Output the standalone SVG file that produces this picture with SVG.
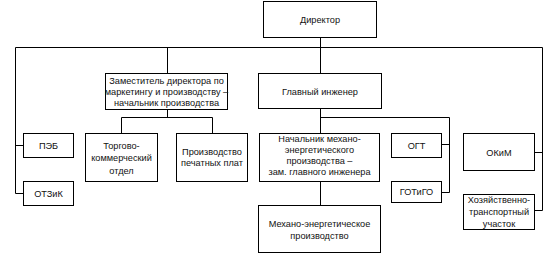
<svg xmlns="http://www.w3.org/2000/svg" width="558" height="256" viewBox="0 0 558 256">
<style>
.box{fill:#fff;stroke:#000;stroke-width:1}
.ln{fill:none;stroke:#000;stroke-width:1}
text{font-family:"Liberation Sans",Arial,sans-serif;font-size:9.2px;fill:#111;text-anchor:middle}
</style>
<rect width="558" height="256" fill="#fff"/>
<g id="connectors">
<path class="ln" d="M320.5 37 V205"/>
<path class="ln" d="M15.5 47.5 H542.5 V210.5 H534"/>
<path class="ln" d="M542.5 152.5 H534"/>
<path class="ln" d="M15.5 47.5 V193.5 H23"/>
<path class="ln" d="M15.5 145.5 H23"/>
<path class="ln" d="M167.5 47.5 V73"/>
<path class="ln" d="M167.5 110 V117.5"/>
<path class="ln" d="M121.5 133 V117.5 H212.5 V133"/>
<path class="ln" d="M320.5 117.5 H449.5 V192.5 H441"/>
<path class="ln" d="M449.5 144.5 H441"/>
</g>
<g id="director"><rect class="box" x="263.5" y="1.5" width="113" height="36"/><text x="320" y="22.5">Директор</text></g>
<g id="deputy"><rect class="box" x="105.5" y="73.5" width="122" height="36"/><text x="166.5" y="83.5">Заместитель директора по</text><text x="166.5" y="94.5">маркетингу и производству –</text><text x="166.5" y="105.5">начальник производства</text></g>
<g id="chief-engineer"><rect class="box" x="258.5" y="73.5" width="123" height="35"/><text x="320" y="94.5">Главный инженер</text></g>
<g id="peb"><rect class="box" x="23.5" y="133.5" width="50" height="24"/><text x="48.5" y="148.5">ПЭБ</text></g>
<g id="otzik"><rect class="box" x="23.5" y="181.5" width="50" height="24"/><text x="48.5" y="196.5">ОТЗиК</text></g>
<g id="trade"><rect class="box" x="85.5" y="133.5" width="72" height="48"/><text x="121.5" y="148.5">Торгово-</text><text x="121.5" y="161">коммерческий</text><text x="121.5" y="173.5">отдел</text></g>
<g id="pcb"><rect class="box" x="176.5" y="133.5" width="71" height="48"/><text x="212" y="155">Производство</text><text x="212" y="165.5">печатных плат</text></g>
<g id="mech-head"><rect class="box" x="259.5" y="133.5" width="120" height="48"/><text x="319.5" y="141.5">Начальник механо-</text><text x="319.5" y="152.5">энергетического</text><text x="319.5" y="163.5">производства –</text><text x="319.5" y="174.5">зам. главного инженера</text></g>
<g id="mech-prod"><rect class="box" x="258.5" y="205.5" width="122" height="47"/><text x="319.5" y="226.5">Механо-энергетическое</text><text x="319.5" y="238.5">производство</text></g>
<g id="ogt"><rect class="box" x="391.5" y="133.5" width="50" height="24"/><text x="416.5" y="148.5">ОГТ</text></g>
<g id="gotigo"><rect class="box" x="391.5" y="181.5" width="50" height="21"/><text x="416.5" y="195">ГОТиГО</text></g>
<g id="okim"><rect class="box" x="463.5" y="133.5" width="71" height="37"/><text x="499" y="155.5">ОКиМ</text></g>
<g id="transport"><rect class="box" x="463.5" y="194.5" width="71" height="35"/><text x="499" y="202.5">Хозяйственно-</text><text x="499" y="214.5">транспортный</text><text x="499" y="226.5">участок</text></g>
</svg>
